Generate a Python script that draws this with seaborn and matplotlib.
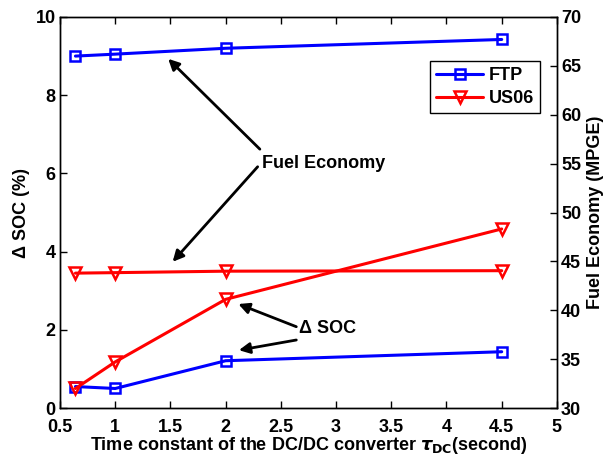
import matplotlib
matplotlib.use("Agg")
import matplotlib.pyplot as plt
import seaborn as sns
import pandas as pd
from matplotlib.lines import Line2D

sns.set_theme(style="white")
plt.rcParams['font.family'] = ['Liberation Sans', 'DejaVu Sans']
plt.rcParams['font.weight'] = 'bold'
plt.rcParams['mathtext.fontset'] = 'dejavusans'
for k in ['text.color', 'axes.labelcolor', 'xtick.color', 'ytick.color']:
    plt.rcParams[k] = 'black'

tau = [0.64, 1.0, 2.0, 4.5]
soc_ftp = [0.55, 0.50, 1.21, 1.44]
soc_us06 = [0.50, 1.18, 2.78, 4.58]
fe_ftp = [66.0, 66.2, 66.8, 67.7]
fe_us06 = [43.8, 43.85, 44.0, 44.05]

series_names = ["FTP", "US06"]
colors = {"FTP": "#0000ff", "US06": "#ff0000"}
markers = {"FTP": "s", "US06": "v"}
msize = {"FTP": 6.5, "US06": 8.5}

soc_df = pd.DataFrame({"tau": tau * 2, "val": soc_ftp + soc_us06,
                       "cycle": ["FTP"] * 4 + ["US06"] * 4})
fe_df = pd.DataFrame({"tau": tau * 2, "val": fe_ftp + fe_us06,
                      "cycle": ["FTP"] * 4 + ["US06"] * 4})

fig = plt.figure(figsize=(6.06, 4.59), dpi=100)
ax = fig.add_axes([0.099, 0.111, 0.820, 0.852])
ax2 = ax.twinx()

def draw(axis, df):
    for name in series_names:
        sub = df[df["cycle"] == name]
        sns.lineplot(data=sub, x="tau", y="val", ax=axis, color=colors[name],
                     marker=markers[name], markersize=msize[name],
                     markerfacecolor="none", markeredgecolor=colors[name],
                     markeredgewidth=1.8, linewidth=2.2, legend=False)

draw(ax, soc_df)
draw(ax2, fe_df)

ax.set_xlim(0.5, 5)
ax.set_ylim(0, 10)
ax2.set_ylim(30, 70)
ax.set_xticks([0.5, 1, 1.5, 2, 2.5, 3, 3.5, 4, 4.5, 5])
ax.set_xticklabels(["0.5", "1", "1.5", "2", "2.5", "3", "3.5", "4", "4.5", "5"])
ax.set_yticks([0, 2, 4, 6, 8, 10])
ax2.set_yticks([30, 35, 40, 45, 50, 55, 60, 65, 70])

for a in (ax, ax2):
    for s in a.spines.values():
        s.set_color("black")
        s.set_linewidth(1.0)
ax.tick_params(axis="both", direction="in", length=5, width=1, labelsize=13,
               top=True, bottom=True, left=True, right=False, pad=3)
ax.tick_params(axis="x", pad=8)
ax2.tick_params(axis="y", direction="in", length=5, width=1, labelsize=13,
                right=True, left=False, pad=3)
for lab in ax.get_xticklabels() + ax.get_yticklabels() + ax2.get_yticklabels():
    lab.set_fontweight("bold")

ax.set_xlabel(r"Time constant of the DC/DC converter $\tau_{\mathbf{DC}}$(second)",
              fontsize=13, fontweight="bold", labelpad=-1)
ax.set_ylabel("Δ SOC (%)", fontsize=13, fontweight="bold", labelpad=4)
ax2.set_ylabel("Fuel Economy (MPGE)", fontsize=13, fontweight="bold", labelpad=4)

arrow = dict(arrowstyle="-|>", color="black", lw=2, mutation_scale=16,
             shrinkA=0, shrinkB=0)
ax.annotate("", xy=(1.48, 8.93), xytext=(2.31, 6.62), arrowprops=arrow)
ax.annotate("", xy=(1.52, 3.74), xytext=(2.29, 6.17), arrowprops=arrow)
ax.text(2.33, 6.25, "Fuel Economy", fontsize=13, fontweight="bold",
        va="center", ha="left")
ax.annotate("", xy=(2.115, 2.66), xytext=(2.64, 2.08), arrowprops=arrow)
ax.annotate("", xy=(2.12, 1.48), xytext=(2.64, 1.74), arrowprops=arrow)
ax.text(2.66, 2.03, "Δ SOC", fontsize=13, fontweight="bold",
        va="center", ha="left")

handles = [Line2D([], [], color=colors[n], marker=markers[n], markersize=msize[n],
                  markerfacecolor="none", markeredgewidth=1.8, linewidth=2.2)
           for n in series_names]
leg = ax2.legend(handles, series_names, loc="upper right",
                 bbox_to_anchor=(0.966, 0.887), fancybox=False, framealpha=1,
                 edgecolor="black", prop={"weight": "bold", "size": 13},
                 handlelength=2.6, handletextpad=0.3, borderpad=0.35,
                 labelspacing=0.3, borderaxespad=0)
leg.get_frame().set_linewidth(1.0)

fig.savefig("out.png", dpi=100)
